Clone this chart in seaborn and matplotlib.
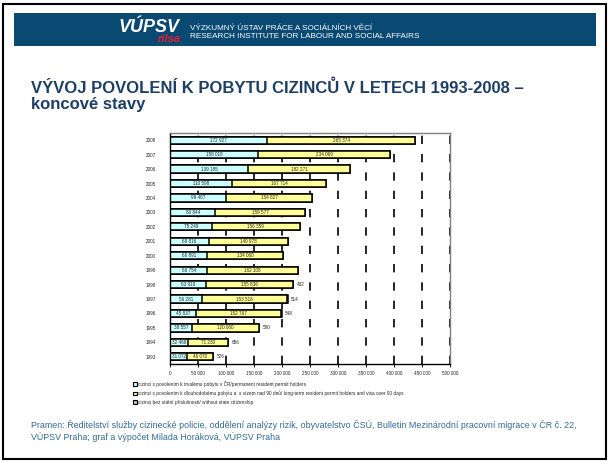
import numpy as np
import pandas as pd
import matplotlib
matplotlib.use("Agg")
import matplotlib.pyplot as plt
import seaborn as sns
from matplotlib.patches import Rectangle, Patch

# Data: koncové stavy povolení k pobytu
years = ["2008", "2007", "2006", "2005", "2004", "2003", "2002", "2001",
         "2000", "1999", "1998", "1997", "1996", "1995", "1994", "1993"]
permanent = [172927, 158018, 139185, 110598, 99467, 80844, 75249, 69816,
             66891, 66754, 63919, 56281, 45837, 38557, 32468, 31072]
long_term = [265374, 234069, 182271, 167714, 154827, 159577, 156359, 140978,
             134060, 162108, 155836, 153516, 152767, 120060, 71230, 46070]
stateless = [0, 0, 0, 0, 0, 0, 0, 0, 0, 0, 432, 514, 548, 590, 656, 526]

legend_labels = [
    "cizinci s povolením k trvalému pobytu v ČR/permanent resident permit holders",
    "cizinci s povolením k dlouhodobému pobytu a  s vízem nad 90 dnů/ long-term resident permit holders and visa over 90 days",
    "cizinci bez státní příslušnosti/ without state citizenship",
]

df = pd.DataFrame({"rok": years, "trvaly": permanent, "dlouhodoby": long_term, "bez": stateless})
df["s1"] = df["trvaly"]
df["s2"] = df["trvaly"] + df["dlouhodoby"]
df["s3"] = df["s2"] + df["bez"]

c_perm = "#CCFFFF"
c_long = "#FFFF99"
c_bez = "#C0C0C0"
blue = "#0A4A72"

sns.set_theme(style="white")
plt.rcParams["font.family"] = ["Liberation Sans", "DejaVu Sans"]

W, H = 609, 462
fig = plt.figure(figsize=(W / 100, H / 100), dpi=100)

def fx(px):
    return px / W

def fy(py):
    return 1 - py / H

# slide frame + header band
fig.add_artist(Rectangle((fx(3), fy(459)), fx(603), 455 / H, transform=fig.transFigure,
                         fill=False, edgecolor="black", linewidth=1.5))
fig.add_artist(Rectangle((fx(14), fy(46)), fx(582), 33 / H, transform=fig.transFigure,
                         facecolor=blue, edgecolor="none"))
fig.text(fx(118), fy(27), "VÚPSV", color="white", fontsize=13, fontweight="bold",
         fontstyle="italic", va="center", ha="left")
fig.text(fx(158), fy(39), "rilsa", color="#E3202A", fontsize=8, fontweight="bold",
         fontstyle="italic", va="center", ha="left")
fig.text(fx(190), fy(28), "VÝZKUMNÝ ÚSTAV PRÁCE A SOCIÁLNÍCH VĚCÍ", color="white",
         fontsize=5.9, va="center")
fig.text(fx(190), fy(37), "RESEARCH INSTITUTE FOR LABOUR AND SOCIAL AFFAIRS", color="white",
         fontsize=5.9, va="center")

# title
fig.text(fx(31), fy(88), "VÝVOJ POVOLENÍ K POBYTU CIZINCŮ V LETECH 1993-2008 –",
         color="#1B3F66", fontsize=12, fontweight="bold", va="center")
fig.text(fx(31), fy(105), "koncové stavy", color="#1B3F66", fontsize=12,
         fontweight="bold", va="center")

# chart
ax = fig.add_axes([fx(170), fy(364), fx(280), 231 / H])
ax.set_facecolor("white")
bar_kw = dict(y="rok", order=years, orient="h", width=0.5, edgecolor="black",
              linewidth=1.1, saturation=1, ax=ax)
sns.barplot(data=df, x="s3", color=c_bez, **bar_kw)
sns.barplot(data=df, x="s2", color=c_long, **bar_kw)
sns.barplot(data=df, x="s1", color=c_perm, **bar_kw)

fmt = lambda v: f"{v:,}".replace(",", " ")
for i, row in df.iterrows():
    ax.text(row["trvaly"] / 2, i, fmt(row["trvaly"]), ha="center", va="center", fontsize=3.3)
    ax.text(row["trvaly"] + row["dlouhodoby"] / 2, i, fmt(row["dlouhodoby"]),
            ha="center", va="center", fontsize=3.3)
    if row["bez"] > 0:
        ax.text(row["s3"] + 6000, i, fmt(row["bez"]), ha="left", va="center", fontsize=3.3)

ax.set_xlim(0, 500000)
ticks = np.arange(0, 500001, 50000)
ax.set_xticks(ticks)
ax.set_xticklabels([fmt(t) for t in ticks])
ax.set_xlabel("")
ax.set_ylabel("")
ax.grid(axis="x", color="black", linestyle=(0, (5, 6)), linewidth=1.2)
ax.grid(axis="y", visible=False)
ax.set_axisbelow(True)
ax.tick_params(axis="x", labelsize=3.3, length=2, width=0.8, direction="out", pad=3, bottom=True)
ax.tick_params(axis="y", labelsize=3.3, length=0, pad=10)
for s in ["left", "bottom"]:
    ax.spines[s].set_color("black")
    ax.spines[s].set_linewidth(1.0)
for s in ["top", "right"]:
    ax.spines[s].set_color("#808080")
    ax.spines[s].set_linewidth(1.0)

handles = [Patch(facecolor=c, edgecolor="black", linewidth=0.8) for c in (c_perm, c_long, c_bez)]
fig.legend(handles, legend_labels, loc="upper left", bbox_to_anchor=(fx(131), fy(379)),
           frameon=False, fontsize=3.4, handlelength=0.8, handleheight=0.8,
           handletextpad=0.3, labelspacing=0.75, borderaxespad=0)

# source
src = ("Pramen: Ředitelství služby cizinecké policie, oddělení analýzy rizik, obyvatelstvo ČSÚ, "
       "Bulletin Mezinárodní pracovní migrace v ČR č. 22,\nVÚPSV Praha; graf a výpočet Milada Horáková, VÚPSV Praha")
fig.text(fx(31), fy(420), src, color="#2E6A9C", fontsize=6.4, va="top", linespacing=1.2)

fig.savefig("out.png", dpi=100)
